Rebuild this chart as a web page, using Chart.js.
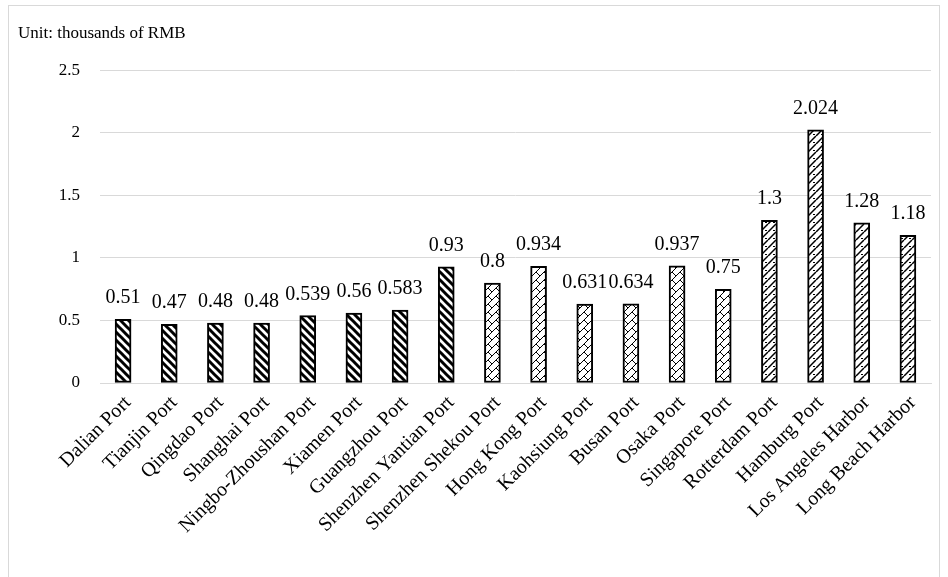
<!DOCTYPE html>
<html>
<head>
<meta charset="utf-8">
<script src="https://cdn.jsdelivr.net/npm/chart.js@4/dist/chart.umd.min.js"></script>
<style>
  html, body { margin: 0; padding: 0; background: #ffffff; }
  #wrap { position: relative; width: 948px; height: 577px; }
</style>
</head>
<body>
<div id="wrap"><canvas id="c" width="948" height="577"></canvas></div>
<script>
// Port handling cost per container
const ports = [
  'Dalian Port', 'Tianjin Port', 'Qingdao Port', 'Shanghai Port',
  'Ningbo-Zhoushan Port', 'Xiamen Port', 'Guangzhou Port', 'Shenzhen Yantian Port',
  'Shenzhen Shekou Port', 'Hong Kong Port', 'Kaohsiung Port', 'Busan Port',
  'Osaka Port', 'Singapore Port', 'Rotterdam Port', 'Hamburg Port',
  'Los Angeles Harbor', 'Long Beach Harbor'
];
const costs = [0.51, 0.47, 0.48, 0.48, 0.539, 0.56, 0.583, 0.93,
               0.8, 0.934, 0.631, 0.634, 0.937, 0.75,
               1.3, 2.024, 1.28, 1.18];
// group of each port: 0 = mainland China, 1 = East / Southeast Asia, 2 = Europe & America
const groups = [0, 0, 0, 0, 0, 0, 0, 0, 1, 1, 1, 1, 1, 1, 2, 2, 2, 2];
const unitTitle = 'Unit: thousands of RMB';
const yMax = 2.5;
const yStep = 0.5;

const FONT = "'Liberation Serif', 'Times New Roman', serif";

// hatch fills
function makePattern(kind) {
  const s = 8;
  const cv = document.createElement('canvas');
  cv.width = s; cv.height = s;
  const g = cv.getContext('2d');
  g.fillStyle = '#ffffff';
  g.fillRect(0, 0, s, s);
  g.strokeStyle = '#000000';
  g.lineCap = 'square';
  if (kind === 0) {
    g.lineWidth = 3;
    for (const o of [-s, 0, s]) {
      g.beginPath(); g.moveTo(o, 0); g.lineTo(o + s, s); g.stroke();
    }
  } else if (kind === 1) {
    g.lineWidth = 1;
    g.lineCap = 'butt';
    for (const o of [-s, 0, s]) {
      g.beginPath(); g.moveTo(o, s); g.lineTo(o + s, 0); g.stroke();
    }
    g.beginPath(); g.moveTo(0, 0); g.lineTo(4, 4); g.stroke();
  } else {
    g.lineWidth = 1.5;
    g.lineCap = 'butt';
    for (const o of [-s, 0, s]) {
      g.beginPath(); g.moveTo(o, s); g.lineTo(o + s, 0); g.stroke();
    }
    g.fillStyle = '#000000';
    g.fillRect(5, 6, 2, 1);
  }
  return g.createPattern(cv, 'repeat');
}
const fills = [makePattern(0), makePattern(1), makePattern(2)];

// light frame around the chart
const framePlugin = {
  id: 'frame',
  beforeDraw(chart) {
    const ctx = chart.ctx;
    ctx.save();
    ctx.strokeStyle = '#d9d9d9';
    ctx.lineWidth = 1;
    ctx.strokeRect(8.5, 5.5, 931, 600);
    ctx.restore();
  }
};

// value labels above the bars
const valueLabels = {
  id: 'valueLabels',
  afterDatasetsDraw(chart) {
    const ctx = chart.ctx;
    const meta = chart.getDatasetMeta(0);
    ctx.save();
    ctx.font = '20px ' + FONT;
    ctx.fillStyle = '#000000';
    ctx.textAlign = 'center';
    ctx.textBaseline = 'alphabetic';
    meta.data.forEach((bar, i) => {
      ctx.fillText(String(costs[i]), bar.x, bar.y - 16);
    });
    ctx.restore();
  }
};

new Chart(document.getElementById('c'), {
  type: 'bar',
  data: {
    labels: ports,
    datasets: [{
      data: costs,
      backgroundColor: groups.map(g => fills[g]),
      borderColor: '#000000',
      borderWidth: 2,
      borderSkipped: false,
      barThickness: 16
    }]
  },
  options: {
    responsive: false,
    animation: false,
    devicePixelRatio: 1,
    layout: { padding: { left: 18, right: 17, top: 0, bottom: 0 } },
    plugins: {
      legend: { display: false },
      tooltip: { enabled: false },
      title: {
        display: true,
        text: unitTitle,
        align: 'start',
        color: '#000000',
        font: { family: FONT, size: 17, weight: 'normal' },
        padding: { top: 23, bottom: 27 }
      }
    },
    scales: {
      x: {
        grid: { display: false, drawTicks: false },
        border: { display: true, color: '#d9d9d9', width: 1 },
        ticks: {
          color: '#000000',
          font: { family: FONT, size: 20 },
          minRotation: 45,
          maxRotation: 45,
          autoSkip: false,
          padding: 8,
          labelOffset: 5
        },
        afterFit(scale) { scale.height = 194; }
      },
      y: {
        min: 0,
        max: yMax,
        grid: { color: '#d9d9d9', lineWidth: 1, drawTicks: false },
        border: { display: false },
        ticks: {
          stepSize: yStep,
          color: '#000000',
          font: { family: FONT, size: 17 },
          padding: 20,
          callback: v => String(v)
        },
        afterFit(scale) { scale.width = 82; }
      }
    }
  },
  plugins: [framePlugin, valueLabels]
});
</script>
</body>
</html>
